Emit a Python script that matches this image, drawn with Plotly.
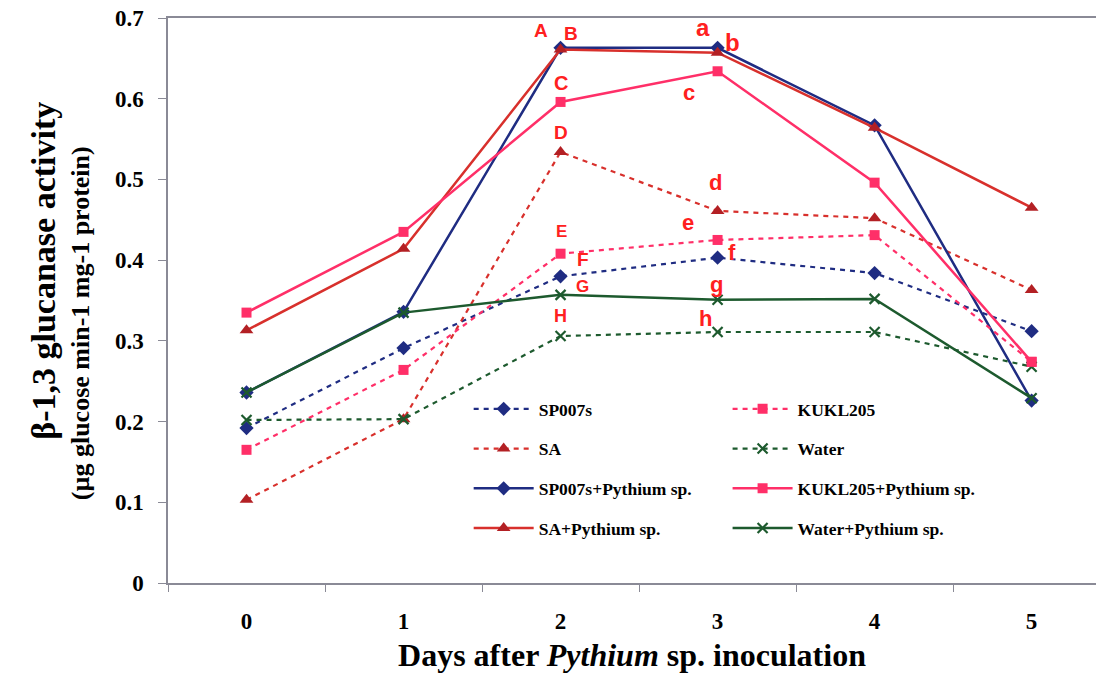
import plotly.graph_objects as go

days = ["0", "1", "2", "3", "4", "5"]

sp007s = [0.192, 0.291, 0.380, 0.403, 0.384, 0.312]
kukl205 = [0.165, 0.264, 0.408, 0.425, 0.431, 0.274]
sa = [0.103, 0.203, 0.534, 0.461, 0.452, 0.363]
water = [0.202, 0.203, 0.306, 0.311, 0.311, 0.268]
sp007s_p = [0.236, 0.336, 0.663, 0.663, 0.567, 0.226]
kukl205_p = [0.335, 0.435, 0.596, 0.634, 0.496, 0.274]
sa_p = [0.313, 0.414, 0.661, 0.657, 0.564, 0.465]
water_p = [0.236, 0.335, 0.357, 0.351, 0.352, 0.229]

letters = ["A", "B", "C", "D", "E", "F", "G", "H", "a", "b", "c", "d", "e", "f", "g", "h"]
letter_x = [1.873, 2.064, 2.0, 2.0, 2.006, 2.14, 2.14, 2.0, 2.904, 3.096, 2.82, 2.987, 2.81, 3.09, 2.99, 2.92]
letter_y = [0.685, 0.681, 0.619, 0.558, 0.435, 0.401, 0.367, 0.331, 0.688, 0.670, 0.608, 0.496, 0.447, 0.409, 0.370, 0.328]
letter_size = [19, 19, 20, 19, 17, 19, 17, 18, 24, 24, 22, 22, 22, 22, 22, 22]

BLUE = "#1f2c82"
PINK = "#ff2f68"
DRED = "#b32024"
RED = "#d8302c"
GREEN = "#1d5a2e"
AXIS = "#8a8a96"

FONT = "Liberation Serif"

fig = go.Figure()

series = [
    ("SP007s", sp007s, BLUE, BLUE, "diamond", 11, "dash", "legend"),
    ("SA", sa, RED, DRED, "triangle-up", 12, "dash", "legend"),
    ("SP007s+Pythium sp.", sp007s_p, BLUE, BLUE, "diamond", 11, "solid", "legend"),
    ("SA+Pythium sp.", sa_p, RED, DRED, "triangle-up", 12, "solid", "legend"),
    ("KUKL205", kukl205, PINK, PINK, "square", 10, "dash", "legend2"),
    ("Water", water, GREEN, GREEN, "x-thin", 10, "dash", "legend2"),
    ("KUKL205+Pythium sp.", kukl205_p, PINK, PINK, "square", 10, "solid", "legend2"),
    ("Water+Pythium sp.", water_p, GREEN, GREEN, "x-thin", 10, "solid", "legend2"),
]

for name, vals, lc, mc, sym, size, dash, lg in series:
    fig.add_trace(go.Scatter(
        x=days, y=vals, name=name, mode="lines+markers",
        line=dict(color=lc, width=2.5 if dash == "solid" else 2.2,
                  dash="solid" if dash == "solid" else "5px,5px"),
        marker=dict(symbol=sym, size=size, color=mc,
                    line=dict(color=mc, width=2.2 if "x" in sym else 0)),
        legend=lg, legendgroup=name,
    ))

for t, x, y, s in zip(letters, letter_x, letter_y, letter_size):
    fig.add_annotation(x=x, y=y, text=t, showarrow=False,
                       font=dict(family="Liberation Sans", size=s, color="#ff2020", weight="bold"))

legend_common = dict(
    orientation="v", bgcolor="rgba(0,0,0,0)", borderwidth=0,
    font=dict(family=FONT, size=17.5, color="black", weight="bold"),
    itemwidth=60, tracegroupgap=14, yanchor="top", xanchor="left",
)

NB = "\u00a0"
ytitle = ("<span style='font-size:34px'>" + NB * 7 + "β-1,3 glucanase activity</span><br>"
          "(µg glucose min-1 mg-1 protein)<span>" + NB * 7 + "</span>")

fig.update_layout(
    width=1096, height=678,
    margin=dict(l=168, r=0, t=18, b=95),
    plot_bgcolor="white", paper_bgcolor="white",
    showlegend=True,
    legend=dict(x=0.324, y=0.340, **legend_common),
    legend2=dict(x=0.603, y=0.340, **legend_common),
    xaxis=dict(
        type="category", range=[-0.5, 5.41], showgrid=False, automargin=False,
        showline=True, linecolor=AXIS, linewidth=1.5, mirror=True,
        ticks="outside", ticklen=7, tickcolor=AXIS, tickson="boundaries",
        ticklabelstandoff=17,
        tickfont=dict(family=FONT, size=23, color="black", weight="bold"),
        title=dict(text="Days after <i>Pythium</i> sp. inoculation",
                   font=dict(family=FONT, size=32, color="black", weight="bold"),
                   standoff=10),
    ),
    yaxis=dict(
        range=[0, 0.7], dtick=0.1, showgrid=False, zeroline=False, automargin=False,
        showline=True, linecolor=AXIS, linewidth=1.5,
        ticks="outside", ticklen=8, tickcolor=AXIS,
        tickformat="~g", ticklabelstandoff=10,
        tickfont=dict(family=FONT, size=23, color="black", weight="bold"),
        title=dict(text=ytitle,
                   font=dict(family=FONT, size=26, color="black", weight="bold"),
                   standoff=18),
    ),
)

fig.write_html("out.html", config={"displayModeBar": False},
               post_script="document.body.style.margin='0';")
